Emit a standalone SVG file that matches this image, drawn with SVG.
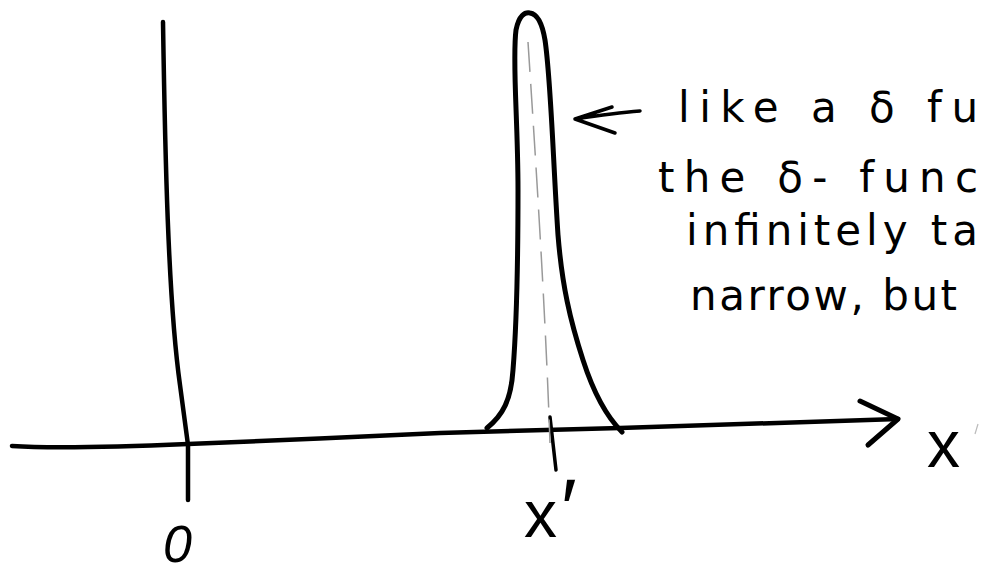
<svg xmlns="http://www.w3.org/2000/svg" width="982" height="572" viewBox="0 0 982 572">
<style>
.ink{fill:none;stroke:#000;stroke-linecap:round;stroke-linejoin:round}
.hand{font-family:"Liberation Sans","DejaVu Sans",sans-serif;fill:#000}
.note{font-family:"DejaVu Sans","Liberation Sans",sans-serif;fill:#000;font-size:42px}
</style>
<rect width="982" height="572" fill="#fff"/>
<g id="axes">
<path class="ink" stroke-width="4.5" d="M163,22 C165,150 168,300 180,385 L188,445 L188,500"/>
<path class="ink" stroke-width="4.5" d="M12,446 C60,449 140,446 188,444 S380,436 440,433 L620,428 L898,419"/>
<path class="ink" stroke-width="5" d="M860,401 L898,419 L868,445"/>
<path class="ink" stroke-width="3.5" d="M550,417 L556,470"/>
<path fill="none" stroke="#bbb" stroke-width="1.2" d="M978,424 L975,434"/>
</g>
<g id="peak">
<path fill="none" stroke="#999" stroke-width="1.5" stroke-dasharray="30 12" d="M528,42 C535,150 545,300 550,443"/>
<path class="ink" stroke-width="5" d="M487,428 C503,415 511,400 513,370 C517,320 518,250 518,190 C518,120 512,60 516,30 C519,15 525,12 530,13 C537,14 542,22 545,40 C551,80 553,160 558,235 C562,285 570,320 583,360 C592,388 605,415 622,432"/>
</g>
<g id="connectors">
<path class="ink" stroke-width="3.5" d="M640,111 C615,113 595,116 575,119 M612,107 L575,119 L615,133"/>
</g>
<g id="labels">
<text class="hand" x="163" y="562" font-size="52" font-style="italic">0</text>
<text class="hand" x="524" y="537" font-size="66">x<tspan x="561" y="537" font-size="84">′</tspan></text>
<text class="hand" x="927" y="467" font-size="66">x</text>
</g>
<g id="note">
<text class="note" x="678" y="122" textLength="300" lengthAdjust="spacing">like a δ fu</text>
<text class="note" x="658" y="192" textLength="320" lengthAdjust="spacing">the δ- func</text>
<text class="note" x="686" y="245" textLength="292" lengthAdjust="spacing">infinitely ta</text>
<text class="note" x="690" y="310" textLength="267" lengthAdjust="spacing">narrow, but</text>
</g>
</svg>
